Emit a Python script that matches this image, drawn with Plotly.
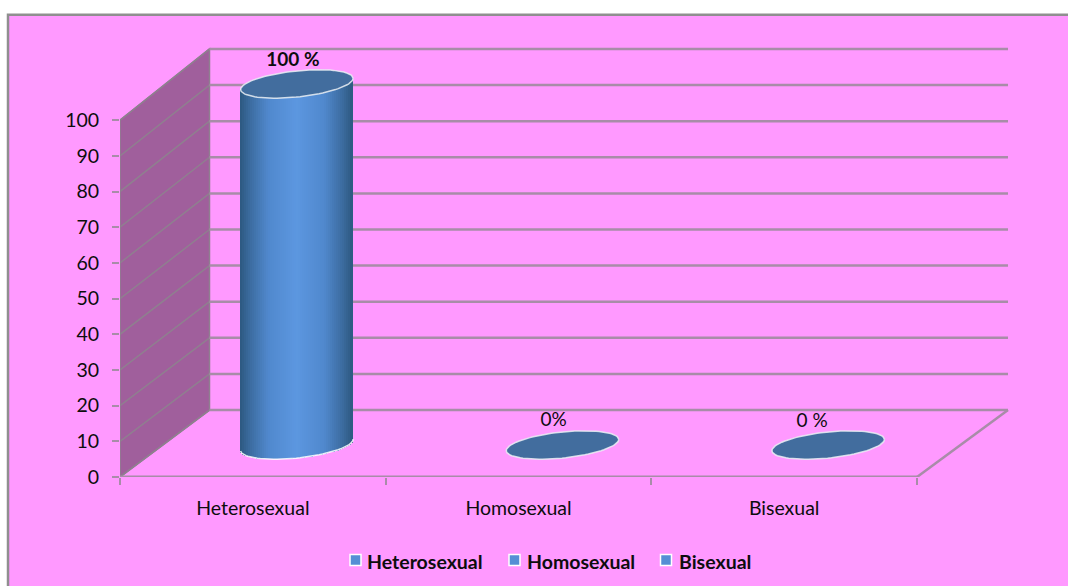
import math
import plotly.graph_objects as go

categories = ["Heterosexual", "Homosexual", "Bisexual"]
values = [100, 0, 0]
value_labels = ["<b>100 %</b>", "0%", "0 %"]
y_ticks = [0, 10, 20, 30, 40, 50, 60, 70, 80, 90, 100]

W, H = 1068, 586
L, R = 120, 1010
T, B = 30.75, 477
PX_X = 265.67
PX_Y = 3.57
FONT = "Lato"
PINK = "#ff99ff"
GRID = "#a88ca8"
WALL = "#a05f9c"
SIDE = "#8f7f8f"
TOP = "#426d9e"

def dxu(px): return px / PX_X
def dyu(px): return px / PX_Y
def pap_x(px): return (px - L) / (R - L)
def pap_y(py): return (B - py) / (B - T)

DEPTH_X = dxu(89.5)
DEPTH_Y = dyu(67)
BACK_SCALE = 1.012
MID_DX = dxu(44)
MID_DY = dyu(32)
A, Bm, TH = 56.5, 13.0, math.radians(6)
x_end = -0.5 + (R - L) / PX_X

def ellipse(n=90):
    xs, ys = [], []
    for i in range(n + 1):
        t = 2 * math.pi * i / n
        ex = A * math.cos(t)
        ey = Bm * math.sin(t)
        xs.append(ex * math.cos(TH) + ey * math.sin(TH))
        ys.append(-ex * math.sin(TH) + ey * math.cos(TH))
    return xs, ys  # pixels, y downward

ex, ey = ellipse()
half_w = max(ex)

def lower_edge(u):
    best = -1e9
    for i in range(len(ex) - 1):
        if (ex[i] - u) * (ex[i + 1] - u) <= 0:
            best = max(best, ey[i], ey[i + 1])
    return best

def shade(f):
    # f: 0 at edge .. 1 at centre
    stops = [(0.0, (45, 88, 128)), (0.18, (60, 108, 160)), (0.5, (80, 136, 205)), (1.0, (92, 151, 224))]
    for (a, ca), (b, cb) in zip(stops, stops[1:]):
        if f <= b:
            k = (f - a) / (b - a)
            return "rgb(%d,%d,%d)" % tuple(round(ca[j] + (cb[j] - ca[j]) * k) for j in range(3))
    return "rgb(92,151,224)"

shapes = [
    dict(type="rect", xref="paper", yref="paper", x0=pap_x(8), x1=pap_x(W + 5), y0=pap_y(H + 5), y1=pap_y(14.5),
         fillcolor=PINK, line=dict(color="#8f8f8f", width=2.5), layer="below"),
]
floor_y = DEPTH_Y
wall_top = DEPTH_Y + 100 * BACK_SCALE
back_x = -0.5 + DEPTH_X
shapes.append(dict(type="path", layer="below", xref="x2", yref="y",
    path=f"M -0.5 0 L {back_x} {floor_y} L {back_x} {wall_top} L -0.5 100 Z",
    fillcolor=WALL, line=dict(color=SIDE, width=1.5)))
for v in y_ticks:
    yb = DEPTH_Y + v * BACK_SCALE
    shapes.append(dict(type="line", layer="below", xref="x2", yref="y", x0=-0.5, x1=back_x, y0=v, y1=yb,
                       line=dict(color=SIDE, width=1.5)))
    shapes.append(dict(type="line", layer="below", xref="x2", yref="y", x0=back_x, x1=x_end - dxu(2), y0=yb, y1=yb,
                       line=dict(color=GRID, width=2.5)))
shapes.append(dict(type="line", layer="below", xref="x2", yref="y", x0=2.5, x1=x_end - dxu(2), y0=0, y1=DEPTH_Y,
                   line=dict(color=GRID, width=2.5)))
shapes.append(dict(type="line", layer="below", xref="x2", yref="y", x0=-0.5, x1=2.5, y0=0, y1=0,
                   line=dict(color=GRID, width=3)))

fig = go.Figure()

# invisible carrier for the category axis
fig.add_trace(go.Scatter(x=categories, y=values, mode="markers", marker=dict(opacity=0),
                         showlegend=False, hoverinfo="skip", xaxis="x", yaxis="y"))

SLICE = 2.0
n_sl = int(round(2 * half_w / SLICE))
for i, (cat, val) in enumerate(zip(categories, values)):
    cx = i + MID_DX
    xs, bases, heights, colors = [], [], [], []
    for k in range(n_sl):
        u = -half_w + (k + 0.5) * SLICE
        base = MID_DY - dyu(lower_edge(u))
        top = val * BACK_SCALE + MID_DY + dyu(u * math.tan(TH))
        xs.append(cx + dxu(u))
        bases.append(base)
        heights.append(max(top - base, 0) if val > 0 else 0)
        colors.append(shade(1 - abs(u) / half_w))
    fig.add_trace(go.Bar(x=xs, y=heights, base=bases, width=[dxu(SLICE + 0.6)] * n_sl,
                         marker=dict(color=colors, line=dict(width=0)), name=cat, showlegend=False,
                         hoverinfo="skip", xaxis="x2", yaxis="y"))
    # lower rim of the cylinder
    if val > 0:
        idx = sorted((j for j in range(len(ex)) if ey[j] >= -ex[j] * math.tan(TH)), key=lambda j: ex[j])
        fig.add_trace(go.Scatter(x=[cx + dxu(ex[j]) for j in idx],
                                 y=[MID_DY - dyu(ey[j]) for j in idx],
                                 mode="lines", line=dict(color="rgba(255,255,255,0.85)", width=1.5),
                                 showlegend=False, hoverinfo="skip", xaxis="x2", yaxis="y"))
    # top ellipse
    fig.add_trace(go.Scatter(x=[cx + dxu(p) for p in ex],
                             y=[val * BACK_SCALE + MID_DY - dyu(p) for p in ey],
                             mode="lines", fill="toself", fillcolor=TOP,
                             line=dict(color="rgba(235,240,245,0.85)", width=1.5),
                             showlegend=False, hoverinfo="skip", xaxis="x2", yaxis="y"))

label_dx = [-4, -9, -16]
label_dy = [23, 24, 23]
fig.add_trace(go.Scatter(x=[i + MID_DX + dxu(d) for i, d in enumerate(label_dx)],
                         y=[v * BACK_SCALE + MID_DY + dyu(d) for v, d in zip(values, label_dy)],
                         text=value_labels, mode="text", textposition="middle center",
                         textfont=dict(family=FONT, size=19, color="#0d0d0d"),
                         showlegend=False, hoverinfo="skip", xaxis="x2", yaxis="y", cliponaxis=False))

# legend
leg_sq = [355.5, 514.5, 666]
leg_tx = [365, 525, 677]
annotations = []
for name, sq, tx in zip(categories, leg_sq, leg_tx):
    shapes.append(dict(type="rect", xref="paper", yref="paper", x0=pap_x(sq - 5.5), x1=pap_x(sq + 5.5),
                       y0=pap_y(565.5), y1=pap_y(554.5), fillcolor="#558ed5",
                       line=dict(color="white", width=1.5)))
    annotations.append(dict(xref="paper", yref="paper", x=pap_x(tx), y=pap_y(562), xanchor="left", yanchor="middle",
                            text=f"<b>{name}</b>", showarrow=False,
                            font=dict(family=FONT, size=19.5, color="#0d0d0d")))

fig.update_layout(
    width=W, height=H, autosize=False, showlegend=False,
    margin=dict(l=L, r=W - R, t=T, b=H - B, pad=0),
    paper_bgcolor="white", plot_bgcolor="rgba(0,0,0,0)",
    barmode="overlay", bargap=0,
    shapes=shapes, annotations=annotations,
    font=dict(family=FONT, size=19.5, color="#0d0d0d"),
    xaxis=dict(type="category", categoryorder="array", categoryarray=categories, range=[-0.5, x_end],
               tickson="boundaries", ticks="outside", ticklen=7, tickwidth=2, tickcolor=GRID,
               showgrid=False, zeroline=False, showline=False, ticklabelstandoff=17, fixedrange=True),
    xaxis2=dict(type="linear", overlaying="x", range=[-0.5, x_end], visible=False, fixedrange=True),
    yaxis=dict(range=[0, 125], tickvals=y_ticks, ticks="outside", ticklen=7, tickwidth=2, tickcolor=GRID,
               showgrid=False, zeroline=False, showline=False, ticklabelstandoff=9, fixedrange=True),
)

fig.write_html("out.html", config={"displayModeBar": False},
               post_script="document.body.style.margin='0';document.documentElement.style.overflow='hidden';")
